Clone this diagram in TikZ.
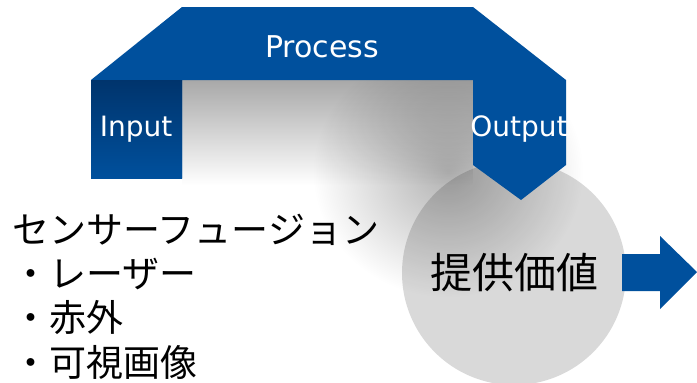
\documentclass[tikz,border=0pt]{standalone}
\usepackage{fontspec}
\setmainfont{DejaVu Sans}
\newfontfamily\jp{Noto Sans CJK JP}
\usetikzlibrary{fadings,positioning}
\definecolor{flowblue}{RGB}{0,80,157}
\definecolor{flowdark}{RGB}{0,52,108}
\definecolor{valuegray}{RGB}{217,217,217}
\tikzfading[name=fadedown, top color=transparent!66, bottom color=transparent!100]
\tikzfading[name=blur, inner color=transparent!70, outer color=transparent!100]

\begin{document}
\begin{tikzpicture}[
    x=1pt, y=-1pt,
    every node/.style={inner sep=0pt},
    flowtext/.style={
        text=white,
        font=\fontsize{28}{30}\selectfont
    },
    listtext/.style={
        anchor=base west,
        font=\jp\fontsize{37}{44}\selectfont
    }
]
\fill[white] (0,0) rectangle (697,383);
\clip (0,0) rectangle (697,383);
% value circle
\node[circle, fill=valuegray, minimum size=224pt] (value) at (514,273) {};
% soft shadow below the band
\fill[black, path fading=fadedown] (182,80) rectangle (473,185);
\fill[black, path fading=blur] (448,172) ellipse (135 and 125);
\node[font=\jp\fontsize{42}{46}\selectfont] (valuetext) at (value) {提供価値};
% process band
\fill[flowblue] (91,178) -- (91,80) -- (182,7) -- (473,7) -- (566,80)
    -- (566,165) -- (521,200) -- (473,165) -- (473,80) -- (182,80)
    -- (182,178) -- cycle;
\shade[top color=flowdark, bottom color=flowblue] (91,80) rectangle (182,178);
\node[flowtext, font=\fontsize{30}{32}\selectfont] (process) at (322,47) {Process};
\node[flowtext] (input) at (136,129) {Input};
\node[flowtext] (output) at (519,129) {Output};
% arrow out of the circle
\coordinate (tip) at (697,272);
\fill[flowblue] ([shift={(-4,-19)}]value.east) -- (660,254) -- (660,236) -- (tip)
    -- (660,309) -- (660,291) -- ([shift={(-4,18)}]value.east) -- cycle;
% sensor list
\node[listtext] (sensor) at (12,243) {センサーフュージョン};
\node[listtext] (laser) at (12,287) {・レーザー};
\node[listtext] (infrared) at (12,331) {・赤外};
\node[listtext] (visible) at (12,376) {・可視画像};
\end{tikzpicture}
\end{document}
